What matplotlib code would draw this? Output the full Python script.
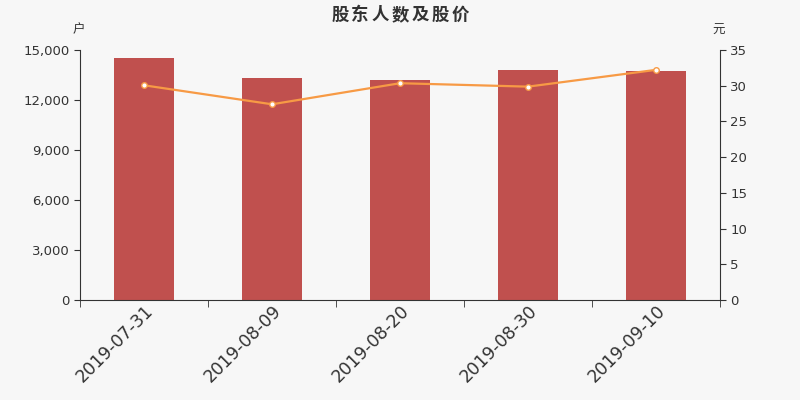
import matplotlib
matplotlib.use("Agg")
import matplotlib.pyplot as plt
import numpy as np

plt.rcParams['font.family'] = ['DejaVu Sans', 'Noto Sans CJK SC']

dates = ["2019-07-31", "2019-08-09", "2019-08-20", "2019-08-30", "2019-09-10"]
holders = [14500, 13340, 13200, 13780, 13740]
prices = [30.06, 27.40, 30.35, 29.87, 32.22]
left_ticks = [0, 3000, 6000, 9000, 12000, 15000]
right_ticks = [0, 5, 10, 15, 20, 25, 30, 35]
title = "股东人数及股价"

bg = "#f7f7f7"
bar_color = "#c0504e"
line_color = "#f79a45"
text_color = "#333333"
cjk = ['Noto Sans CJK SC', 'DejaVu Sans']

fig = plt.figure(figsize=(8, 4), dpi=100, facecolor=bg)
ax = fig.add_axes([0.1, 0.25, 0.8, 0.625])
ax.set_facecolor(bg)
x = np.arange(len(dates))
ax.bar(x, holders, width=60/128, color=bar_color, zorder=2)
ax.set_xlim(-0.5, len(dates) - 0.5)
ax.set_ylim(0, 15000)
ax.set_yticks(left_ticks)
ax.set_yticklabels([f"{v:,}" for v in left_ticks])
ax.set_xticks(x)
ax.set_xticklabels(dates, rotation=45, ha='right', rotation_mode='anchor', fontsize=12.5, color=text_color)
ax.tick_params(axis='x', length=0, pad=1)
ax.set_xticks(np.arange(len(dates) + 1) - 0.5, minor=True)
ax.tick_params(axis='x', which='minor', length=5, color=text_color)
ax.tick_params(axis='y', labelsize=9.5, colors=text_color, length=4)
for s in ['top', 'right']:
    ax.spines[s].set_visible(False)
ax.spines['left'].set_color(text_color)
ax.spines['bottom'].set_color(text_color)

ax2 = ax.twinx()
ax2.plot(x, prices, color=line_color, lw=1.6, marker='o', markersize=4,
         markerfacecolor='white', markeredgecolor=line_color, markeredgewidth=1, zorder=3)
ax2.set_ylim(0, 35)
ax2.set_yticks(right_ticks)
ax2.tick_params(axis='y', labelsize=9.5, colors=text_color, length=4)
for s in ['top', 'left', 'bottom']:
    ax2.spines[s].set_visible(False)
ax2.spines['right'].set_color(text_color)

# letter-spaced title
n = len(title)
step = 20 / 800
for i, ch in enumerate(title):
    fig.text(0.5 + (i - (n - 1) / 2) * step, 0.950, ch, ha='center', va='baseline',
             fontsize=12.5, fontweight='bold', color=text_color, family=cjk)
fig.text(0.098, 0.925, "户", ha='center', va='center', fontsize=9, color=text_color, family=cjk)
fig.text(0.898, 0.925, "元", ha='center', va='center', fontsize=9, color=text_color, family=cjk)

fig.savefig("out.png", dpi=100, facecolor=bg)
